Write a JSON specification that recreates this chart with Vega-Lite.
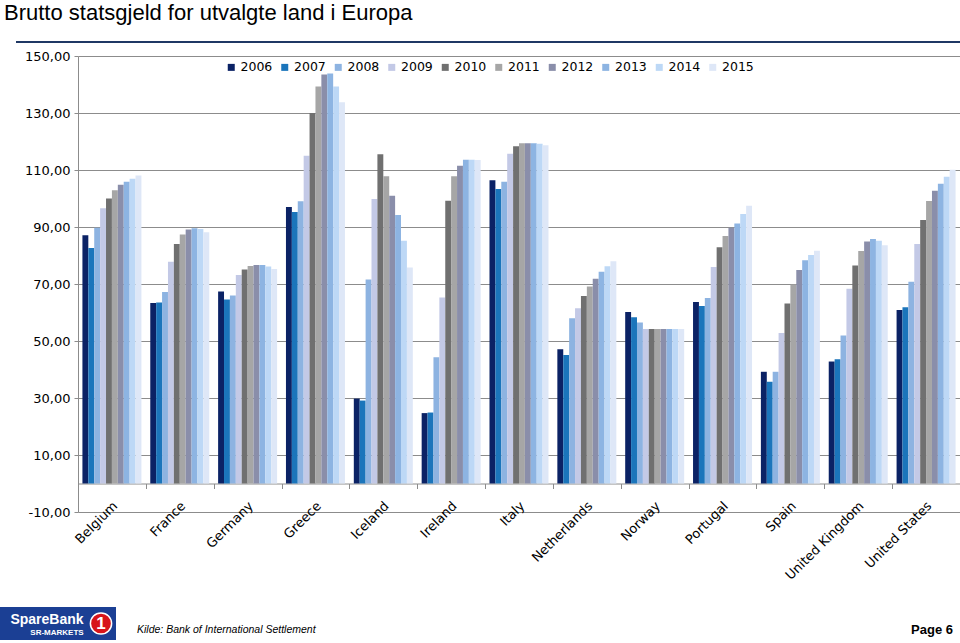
{
  "$schema": "https://vega.github.io/schema/vega-lite/v6.json",
  "background": "white",
  "padding": {"left": 0, "top": 2, "right": 0, "bottom": 0},
  "config": {"view": {"stroke": null}, "font": "DejaVu Sans"},
  "spacing": 24,
  "resolve": {"scale": {"color": "independent"}, "legend": {"color": "independent"}},
  "vconcat": [
    {
      "spacing": 7,
      "resolve": {"scale": {"color": "independent"}, "legend": {"color": "independent"}},
      "vconcat": [
        {
          "bounds": "flush",
          "spacing": 0,
          "hconcat": [
            {
              "width": 16,
              "height": 2,
              "data": {"values": [{"k": 1}]},
              "mark": {"type": "rect", "fillOpacity": 0},
              "encoding": {}
            },
            {
              "width": 944,
              "height": 2,
              "title": {"text": "Brutto statsgjeld for utvalgte land i Europa", "anchor": "start", "frame": "group", "font": "Liberation Sans", "fontSize": 22, "fontWeight": "normal", "color": "#000000", "dx": -12, "offset": 16},
              "data": {"values": [{"k": 1}]},
              "mark": {"type": "rect", "color": "#1f3864"},
              "encoding": {}
            }
          ]
        },
        {
          "bounds": "flush",
          "spacing": 0,
          "resolve": {"scale": {"color": "independent"}, "legend": {"color": "independent"}},
          "hconcat": [
            {
              "width": 78,
              "height": 456,
              "data": {"values": [{"k": 1}]},
              "mark": {"type": "rect", "fillOpacity": 0},
              "encoding": {}
            },
            {
              "width": 882,
              "height": 456,
              "data": {"values": [
                {"country": "Belgium", "year": "2006", "value": 87.1}, {"country": "Belgium", "year": "2007", "value": 82.6}, {"country": "Belgium", "year": "2008", "value": 89.7}, {"country": "Belgium", "year": "2009", "value": 96.6}, {"country": "Belgium", "year": "2010", "value": 100.0}, {"country": "Belgium", "year": "2011", "value": 102.9}, {"country": "Belgium", "year": "2012", "value": 104.8}, {"country": "Belgium", "year": "2013", "value": 105.9}, {"country": "Belgium", "year": "2014", "value": 106.9}, {"country": "Belgium", "year": "2015", "value": 108.1},
                {"country": "France", "year": "2006", "value": 63.3}, {"country": "France", "year": "2007", "value": 63.5}, {"country": "France", "year": "2008", "value": 67.2}, {"country": "France", "year": "2009", "value": 77.8}, {"country": "France", "year": "2010", "value": 84.0}, {"country": "France", "year": "2011", "value": 87.4}, {"country": "France", "year": "2012", "value": 89.1}, {"country": "France", "year": "2013", "value": 89.6}, {"country": "France", "year": "2014", "value": 89.3}, {"country": "France", "year": "2015", "value": 88.2},
                {"country": "Germany", "year": "2006", "value": 67.4}, {"country": "Germany", "year": "2007", "value": 64.6}, {"country": "Germany", "year": "2008", "value": 66.0}, {"country": "Germany", "year": "2009", "value": 73.2}, {"country": "Germany", "year": "2010", "value": 75.1}, {"country": "Germany", "year": "2011", "value": 76.3}, {"country": "Germany", "year": "2012", "value": 76.7}, {"country": "Germany", "year": "2013", "value": 76.7}, {"country": "Germany", "year": "2014", "value": 76.1}, {"country": "Germany", "year": "2015", "value": 75.3},
                {"country": "Greece", "year": "2006", "value": 97.0}, {"country": "Greece", "year": "2007", "value": 95.3}, {"country": "Greece", "year": "2008", "value": 99.0}, {"country": "Greece", "year": "2009", "value": 115.0}, {"country": "Greece", "year": "2010", "value": 130.0}, {"country": "Greece", "year": "2011", "value": 139.3}, {"country": "Greece", "year": "2012", "value": 143.5}, {"country": "Greece", "year": "2013", "value": 143.9}, {"country": "Greece", "year": "2014", "value": 139.3}, {"country": "Greece", "year": "2015", "value": 133.8},
                {"country": "Iceland", "year": "2006", "value": 29.8}, {"country": "Iceland", "year": "2007", "value": 29.1}, {"country": "Iceland", "year": "2008", "value": 71.6}, {"country": "Iceland", "year": "2009", "value": 99.8}, {"country": "Iceland", "year": "2010", "value": 115.5}, {"country": "Iceland", "year": "2011", "value": 107.8}, {"country": "Iceland", "year": "2012", "value": 101.0}, {"country": "Iceland", "year": "2013", "value": 94.2}, {"country": "Iceland", "year": "2014", "value": 85.2}, {"country": "Iceland", "year": "2015", "value": 75.8},
                {"country": "Ireland", "year": "2006", "value": 24.7}, {"country": "Ireland", "year": "2007", "value": 24.9}, {"country": "Ireland", "year": "2008", "value": 44.3}, {"country": "Ireland", "year": "2009", "value": 65.3}, {"country": "Ireland", "year": "2010", "value": 99.2}, {"country": "Ireland", "year": "2011", "value": 107.8}, {"country": "Ireland", "year": "2012", "value": 111.5}, {"country": "Ireland", "year": "2013", "value": 113.6}, {"country": "Ireland", "year": "2014", "value": 113.6}, {"country": "Ireland", "year": "2015", "value": 113.5},
                {"country": "Italy", "year": "2006", "value": 106.4}, {"country": "Italy", "year": "2007", "value": 103.3}, {"country": "Italy", "year": "2008", "value": 105.9}, {"country": "Italy", "year": "2009", "value": 115.7}, {"country": "Italy", "year": "2010", "value": 118.3}, {"country": "Italy", "year": "2011", "value": 119.4}, {"country": "Italy", "year": "2012", "value": 119.4}, {"country": "Italy", "year": "2013", "value": 119.4}, {"country": "Italy", "year": "2014", "value": 119.2}, {"country": "Italy", "year": "2015", "value": 118.7},
                {"country": "Netherlands", "year": "2006", "value": 47.1}, {"country": "Netherlands", "year": "2007", "value": 45.1}, {"country": "Netherlands", "year": "2008", "value": 58.0}, {"country": "Netherlands", "year": "2009", "value": 61.5}, {"country": "Netherlands", "year": "2010", "value": 65.8}, {"country": "Netherlands", "year": "2011", "value": 69.1}, {"country": "Netherlands", "year": "2012", "value": 71.8}, {"country": "Netherlands", "year": "2013", "value": 74.3}, {"country": "Netherlands", "year": "2014", "value": 76.2}, {"country": "Netherlands", "year": "2015", "value": 78.0},
                {"country": "Norway", "year": "2006", "value": 60.2}, {"country": "Norway", "year": "2007", "value": 58.3}, {"country": "Norway", "year": "2008", "value": 56.5}, {"country": "Norway", "year": "2009", "value": 54.2}, {"country": "Norway", "year": "2010", "value": 54.2}, {"country": "Norway", "year": "2011", "value": 54.2}, {"country": "Norway", "year": "2012", "value": 54.2}, {"country": "Norway", "year": "2013", "value": 54.2}, {"country": "Norway", "year": "2014", "value": 54.2}, {"country": "Norway", "year": "2015", "value": 54.2},
                {"country": "Portugal", "year": "2006", "value": 63.7}, {"country": "Portugal", "year": "2007", "value": 62.3}, {"country": "Portugal", "year": "2008", "value": 65.1}, {"country": "Portugal", "year": "2009", "value": 76.0}, {"country": "Portugal", "year": "2010", "value": 82.9}, {"country": "Portugal", "year": "2011", "value": 86.8}, {"country": "Portugal", "year": "2012", "value": 89.7}, {"country": "Portugal", "year": "2013", "value": 91.2}, {"country": "Portugal", "year": "2014", "value": 94.6}, {"country": "Portugal", "year": "2015", "value": 97.5},
                {"country": "Spain", "year": "2006", "value": 39.2}, {"country": "Spain", "year": "2007", "value": 35.7}, {"country": "Spain", "year": "2008", "value": 39.2}, {"country": "Spain", "year": "2009", "value": 52.8}, {"country": "Spain", "year": "2010", "value": 63.2}, {"country": "Spain", "year": "2011", "value": 69.8}, {"country": "Spain", "year": "2012", "value": 74.9}, {"country": "Spain", "year": "2013", "value": 78.3}, {"country": "Spain", "year": "2014", "value": 80.2}, {"country": "Spain", "year": "2015", "value": 81.7},
                {"country": "United Kingdom", "year": "2006", "value": 42.8}, {"country": "United Kingdom", "year": "2007", "value": 43.6}, {"country": "United Kingdom", "year": "2008", "value": 51.9}, {"country": "United Kingdom", "year": "2009", "value": 68.3}, {"country": "United Kingdom", "year": "2010", "value": 76.5}, {"country": "United Kingdom", "year": "2011", "value": 81.6}, {"country": "United Kingdom", "year": "2012", "value": 84.9}, {"country": "United Kingdom", "year": "2013", "value": 85.8}, {"country": "United Kingdom", "year": "2014", "value": 85.2}, {"country": "United Kingdom", "year": "2015", "value": 83.6},
                {"country": "United States", "year": "2006", "value": 60.9}, {"country": "United States", "year": "2007", "value": 61.8}, {"country": "United States", "year": "2008", "value": 70.8}, {"country": "United States", "year": "2009", "value": 84.0}, {"country": "United States", "year": "2010", "value": 92.5}, {"country": "United States", "year": "2011", "value": 99.1}, {"country": "United States", "year": "2012", "value": 102.7}, {"country": "United States", "year": "2013", "value": 105.2}, {"country": "United States", "year": "2014", "value": 107.6}, {"country": "United States", "year": "2015", "value": 110.1}
              ]},
              "mark": {"type": "bar"},
              "encoding": {
                "x": {"field": "country", "type": "nominal", "sort": null,
                      "scale": {"paddingInner": 0, "paddingOuter": 0},
                      "axis": {"title": null, "offset": -28.5, "domainColor": "#8c8c8c", "tickColor": "#8c8c8c", "tickBand": "extent", "tickSize": 5, "labelAngle": -45, "labelAlign": "right", "labelBaseline": "middle", "labelPadding": 15, "labelOffset": 3, "labelFont": "DejaVu Sans", "labelFontSize": 13, "labelColor": "#000000"}},
                "xOffset": {"field": "year", "type": "nominal", "scale": {"paddingInner": 0, "paddingOuter": 0.75}},
                "y": {"field": "value", "type": "quantitative",
                      "scale": {"domain": [-10, 150], "nice": false, "zero": false},
                      "axis": {"title": null, "values": [-10, 10, 30, 50, 70, 90, 110, 130, 150], "labelExpr": "replace(replace(format(datum.value, '.2f'), '.', ','), '\u2212', '-')", "grid": true, "gridColor": "#8c8c8c", "domainColor": "#8c8c8c", "tickColor": "#8c8c8c", "tickSize": 4, "labelPadding": 4, "labelFont": "DejaVu Sans", "labelFontSize": 13, "labelColor": "#000000"}},
                "y2": {"datum": 0},
                "color": {"field": "year", "type": "nominal",
                          "scale": {"domain": ["2006", "2007", "2008", "2009", "2010", "2011", "2012", "2013", "2014", "2015"],
                                    "range": ["#0b2265", "#1b75bb", "#8db3e1", "#c3c9e6", "#707070", "#a6a6a6", "#8a8eaa", "#8db4e2", "#bdd8f6", "#dee7f7"]},
                          "legend": {"title": null, "orient": "none", "legendX": 147, "legendY": 5, "direction": "horizontal", "padding": 0, "symbolType": "square", "symbolSize": 49, "symbolStrokeWidth": 0, "labelFont": "DejaVu Sans", "labelFontSize": 12.5, "labelColor": "#000000", "labelOffset": 3, "columnPadding": 5.5}}
              }
            }
          ]
        }
      ]
    },
    {
      "bounds": "flush",
      "spacing": 0,
      "hconcat": [
        {
          "width": 86,
          "height": 33,
          "data": {"values": [{"k": 1}]},
          "layer": [
            {"mark": {"type": "rect", "color": "#1b3f94"}, "encoding": {}},
            {"mark": {"type": "text", "text": "SpareBank", "color": "#ffffff", "font": "Liberation Sans", "fontSize": 14, "fontWeight": "bold", "dx": 4, "dy": -3.5}, "encoding": {}},
            {"mark": {"type": "text", "text": "SR-MARKETS", "color": "#ffffff", "font": "Liberation Sans", "fontSize": 8, "fontWeight": "bold", "dx": 14, "dy": 9.5}, "encoding": {}}
          ]
        },
        {
          "width": 30,
          "height": 33,
          "data": {"values": [{"k": 1}]},
          "layer": [
            {"mark": {"type": "rect", "color": "#1b3f94"}, "encoding": {}},
            {"mark": {"type": "point", "shape": "circle", "filled": true, "color": "#d7141a", "size": 450, "stroke": "#ffffff", "strokeWidth": 1.5, "opacity": 1}, "encoding": {}},
            {"mark": {"type": "text", "text": "1", "color": "#ffffff", "font": "Liberation Sans", "fontSize": 17, "fontWeight": "bold"}, "encoding": {}}
          ]
        },
        {
          "width": 844,
          "height": 33,
          "data": {"values": [{"k": 1}]},
          "layer": [
            {"mark": {"type": "text", "text": "Kilde: Bank of International Settlement", "align": "left", "font": "Liberation Sans", "fontStyle": "italic", "fontSize": 10.5, "color": "#000000", "dx": -401, "dy": 6}, "encoding": {}},
            {"mark": {"type": "text", "text": "Page 6", "align": "right", "font": "Liberation Sans", "fontWeight": "bold", "fontSize": 13, "color": "#000000", "dx": 415, "dy": 6}, "encoding": {}}
          ]
        }
      ]
    }
  ]
}
